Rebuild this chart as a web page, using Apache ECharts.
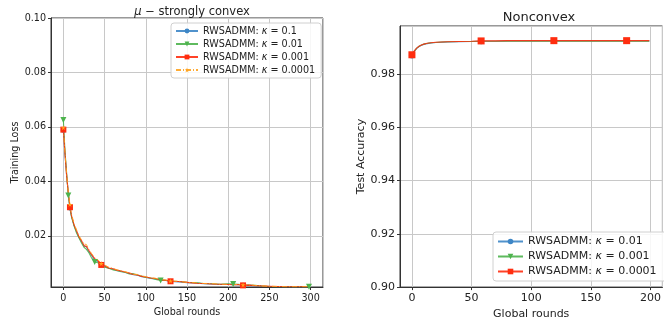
<!DOCTYPE html>
<html>
<head>
<meta charset="utf-8">
<script src="https://cdn.jsdelivr.net/npm/echarts@6/dist/echarts.min.js"></script>
<style>
  html, body { margin: 0; padding: 0; background: #fff; }
  #chart { width: 664px; height: 325px; }
</style>
</head>
<body>
<div id="chart"></div>
<script>
// left panel: training loss vs global rounds
const lossRounds = [0, 2, 4, 6, 8, 10, 13, 16, 19, 22, 25, 28, 31, 34, 38, 42, 46, 50, 55, 60,
  65, 70, 75, 80, 85, 90, 95, 100, 106, 112, 118, 124, 130, 140, 150, 160, 170, 180, 190, 200,
  206, 212, 218, 225, 232, 240, 250, 260, 270, 280, 290, 298];

const lossK01 = [0.0588, 0.0498, 0.0418, 0.0355, 0.0302, 0.0270, 0.0238, 0.0215, 0.0194, 0.0179,
  0.0162, 0.0160, 0.0141, 0.0130, 0.0111, 0.0106, 0.0094, 0.0089, 0.0081, 0.0078,
  0.0072, 0.0070, 0.0065, 0.0062, 0.0057, 0.0055, 0.0050, 0.0048, 0.0043, 0.0042,
  0.0038, 0.0036, 0.0032, 0.0031, 0.0028, 0.0027, 0.0024, 0.0023, 0.0021, 0.0022,
  0.0020, 0.0020, 0.0018, 0.0018, 0.0016, 0.0015, 0.0014, 0.0013, 0.0013, 0.0012,
  0.0012, 0.0012];
const lossK001 = [0.0625, 0.0510, 0.0430, 0.0348, 0.0300, 0.0268, 0.0236, 0.0210, 0.0192, 0.0174,
  0.0158, 0.0150, 0.0138, 0.0120, 0.0104, 0.0101, 0.0090, 0.0085, 0.0081, 0.0075,
  0.0073, 0.0068, 0.0066, 0.0060, 0.0061, 0.0056, 0.0052, 0.0047, 0.0045, 0.0040,
  0.0036, 0.0037, 0.0034, 0.0032, 0.0029, 0.0028, 0.0025, 0.0024, 0.0022, 0.0024,
  0.0023, 0.0022, 0.0020, 0.0019, 0.0018, 0.0016, 0.0014, 0.0013, 0.0013, 0.0013,
  0.0013, 0.0013];
const lossK0001 = [0.0590, 0.0500, 0.0420, 0.0358, 0.0305, 0.0272, 0.0240, 0.0218, 0.0196, 0.0182,
  0.0164, 0.0161, 0.0146, 0.0132, 0.0116, 0.0108, 0.0093, 0.0090, 0.0082, 0.0079,
  0.0074, 0.0071, 0.0067, 0.0063, 0.0058, 0.0056, 0.0051, 0.0049, 0.0045, 0.0043,
  0.0038, 0.0037, 0.0033, 0.0032, 0.0029, 0.0026, 0.0025, 0.0023, 0.0022, 0.0021,
  0.0020, 0.0021, 0.0018, 0.0019, 0.0017, 0.0016, 0.0015, 0.0014, 0.0013, 0.0013,
  0.0013, 0.0013];
const lossK00001 = [0.0597, 0.0505, 0.0425, 0.0360, 0.0315, 0.0278, 0.0245, 0.0222, 0.0200, 0.0185,
  0.0170, 0.0168, 0.0150, 0.0136, 0.0120, 0.0112, 0.0098, 0.0093, 0.0085, 0.0081,
  0.0075, 0.0072, 0.0068, 0.0064, 0.0059, 0.0058, 0.0053, 0.0050, 0.0046, 0.0044,
  0.0039, 0.0038, 0.0034, 0.0033, 0.0029, 0.0028, 0.0025, 0.0025, 0.0022, 0.0022,
  0.0021, 0.0021, 0.0020, 0.0020, 0.0018, 0.0016, 0.0015, 0.0014, 0.0013, 0.0013,
  0.0013, 0.0013];

// right panel: test accuracy vs global rounds
const accRounds = [0, 2, 4, 6, 8, 10, 13, 16, 20, 25, 30, 40, 50, 58, 70, 80, 90, 100, 110, 119,
  130, 140, 150, 160, 170, 180, 190, 199];
const accK001 = [0.9869, 0.9885, 0.9896, 0.9903, 0.9908, 0.9911, 0.9914, 0.9916, 0.9918, 0.9919,
  0.9920, 0.9921, 0.9922, 0.9923, 0.9923, 0.9924, 0.9924, 0.9924, 0.9924, 0.9924,
  0.9924, 0.9924, 0.9924, 0.9924, 0.9924, 0.9924, 0.9924, 0.9924];
const accK0001 = [0.9871, 0.9886, 0.9897, 0.9904, 0.9909, 0.9912, 0.9915, 0.9917, 0.9918, 0.9920,
  0.9921, 0.9922, 0.9922, 0.9923, 0.9923, 0.9923, 0.9923, 0.9923, 0.9923, 0.9923,
  0.9923, 0.9923, 0.9923, 0.9923, 0.9923, 0.9923, 0.9923, 0.9923];
const accK00001 = [0.9872, 0.9887, 0.9897, 0.9904, 0.9909, 0.9912, 0.9915, 0.9917, 0.9919, 0.9920,
  0.9921, 0.9922, 0.9923, 0.9924, 0.9924, 0.9925, 0.9925, 0.9925, 0.9925, 0.9925,
  0.9925, 0.9925, 0.9925, 0.9925, 0.9925, 0.9925, 0.9925, 0.9925];

// which points carry a marker
const marksLeft = [0, 4, 16, 32, 42];
const marksGreen = [0, 3, 14, 30, 40, 51];
const marksRight = [0, 13, 19, 25];

const FONT = 'DejaVu Sans';
const BLUE = '#3d86c6';
const GREEN = '#4db34d';
const RED = '#ff2d0f';
const ORANGE = '#ffa31f';
const STAR = 'path://M50,0 L61,35 L98,35 L68,57 L79,91 L50,70 L21,91 L32,57 L2,35 L39,35 Z';

const chart = echarts.init(document.getElementById('chart'));

function points(xs, ys, marks) {
  return xs.map((x, i) => {
    const item = { value: [x, ys[i]] };
    if (marks.indexOf(i) < 0) item.symbol = 'none';
    return item;
  });
}

function lineSeries(name, idx, xs, ys, marks, color, symbol, size, extra) {
  return Object.assign({
    name: name,
    type: 'line',
    xAxisIndex: idx,
    yAxisIndex: idx,
    data: points(xs, ys, marks),
    symbol: symbol,
    symbolSize: size,
    showAllSymbol: true,
    animation: false,
    color: color,
    lineStyle: { width: 1.1, color: color, opacity: 0.9 },
    itemStyle: { color: color },
  }, extra || {});
}

function legendFormatter(name) {
  const parts = name.split('κ');
  return '{t|' + parts[0] + '}{k|κ}{t|' + parts[1] + '}';
}

function xAxisCfg(idx, min, max, fs, labelMargin, nameGap) {
  return {
    gridIndex: idx,
    type: 'value',
    min: min,
    max: max,
    name: 'Global rounds',
    nameLocation: 'middle',
    nameGap: nameGap,
    nameTextStyle: { fontFamily: FONT, fontSize: fs, color: '#222' },
    axisLine: { show: true, onZero: false, lineStyle: { color: '#333', width: 1 } },
    axisTick: { show: true, length: 3, lineStyle: { color: '#333' } },
    axisLabel: { showMinLabel: false, showMaxLabel: false, margin: labelMargin,
      fontFamily: FONT, fontSize: fs, color: '#222' },
    splitLine: { show: true, lineStyle: { color: '#c8c8c8', width: 1 } },
  };
}

function yAxisCfg(idx, min, max, name, fs, nameGap, hideMin, hideMax) {
  return {
    gridIndex: idx,
    type: 'value',
    min: min,
    max: max,
    splitNumber: 5,
    name: name,
    nameLocation: 'middle',
    nameGap: nameGap,
    nameTextStyle: { fontFamily: FONT, fontSize: fs, color: '#222' },
    axisLine: { show: true, onZero: false, lineStyle: { color: '#333', width: 1 } },
    axisTick: { show: true, length: 3, lineStyle: { color: '#333' } },
    axisLabel: { showMinLabel: !hideMin, showMaxLabel: !hideMax, margin: 5,
      fontFamily: FONT, fontSize: fs, color: '#222',
      formatter: (v) => v.toFixed(2) },
    splitLine: { show: true, lineStyle: { color: '#c8c8c8', width: 1 } },
  };
}

const option = {
  backgroundColor: '#fff',
  title: [
    {
      text: '{m|μ} − strongly convex',
      left: 187, top: 1, textAlign: 'center',
      textStyle: { fontFamily: FONT, fontSize: 11.5, fontWeight: 'normal', color: '#222',
        rich: { m: { fontFamily: FONT, fontSize: 11.5, fontStyle: 'italic', color: '#222' } } },
    },
    {
      text: 'Nonconvex',
      left: 534, top: 6, textAlign: 'center',
      textStyle: { fontFamily: FONT, fontSize: 13, fontWeight: 'normal', color: '#222' },
    },
  ],
  grid: [
    { left: 51, right: 341, top: 18, bottom: 38, show: true, borderColor: '#333', borderWidth: 1 },
    { left: 400, right: -5, top: 26, bottom: 35, show: true, borderColor: '#333', borderWidth: 1 },
  ],
  xAxis: [
    xAxisCfg(0, -15, 315, 9.6, 6, 13),
    xAxisCfg(1, -10, 210, 11, 6, 18),
  ],
  yAxis: [
    yAxisCfg(0, 0.0012, 0.1, 'Training Loss', 9.6, 28, true, false),
    yAxisCfg(1, 0.9, 0.998, 'Test Accuracy', 11, 32, false, true),
  ],
  legend: [
    {
      data: ['RWSADMM: κ = 0.1', 'RWSADMM: κ = 0.01 ', 'RWSADMM: κ = 0.001 ', 'RWSADMM: κ = 0.0001'],
      orient: 'vertical',
      left: 171, top: 23,
      padding: [3, 6, 3, 4],
      itemWidth: 22, itemHeight: 6, itemGap: 3,
      backgroundColor: 'rgba(255,255,255,0.85)',
      borderColor: '#d0d0d0', borderWidth: 1, borderRadius: 3,
      formatter: legendFormatter,
      textStyle: { fontFamily: FONT, fontSize: 9.6, color: '#222',
        rich: { t: { fontFamily: FONT, fontSize: 9.6, color: '#222' },
                k: { fontFamily: FONT, fontSize: 9.6, fontStyle: 'italic', color: '#222' } } },
    },
    {
      data: ['RWSADMM: κ = 0.01', 'RWSADMM: κ = 0.001', 'RWSADMM: κ = 0.0001 '],
      orient: 'vertical',
      left: 493, top: 232,
      padding: [4, 8, 4, 4],
      itemWidth: 25, itemHeight: 7, itemGap: 4,
      backgroundColor: 'rgba(255,255,255,0.85)',
      borderColor: '#d0d0d0', borderWidth: 1, borderRadius: 3,
      formatter: legendFormatter,
      textStyle: { fontFamily: FONT, fontSize: 11, color: '#222',
        rich: { t: { fontFamily: FONT, fontSize: 11, color: '#222' },
                k: { fontFamily: FONT, fontSize: 11, fontStyle: 'italic', color: '#222' } } },
    },
  ],
  series: [
    lineSeries('RWSADMM: κ = 0.1', 0, lossRounds, lossK01, marksLeft, BLUE, 'circle', 5),
    lineSeries('RWSADMM: κ = 0.01 ', 0, lossRounds, lossK001, marksGreen, GREEN, 'triangle', 6,
      { symbolRotate: 180 }),
    lineSeries('RWSADMM: κ = 0.001 ', 0, lossRounds, lossK0001, marksLeft, RED, 'rect', 6),
    lineSeries('RWSADMM: κ = 0.0001', 0, lossRounds, lossK00001, marksLeft, ORANGE, STAR, 5,
      { lineStyle: { width: 1, color: ORANGE, opacity: 0.9, type: [5, 2, 1, 2] } }),
    lineSeries('RWSADMM: κ = 0.01', 1, accRounds, accK001, marksRight, BLUE, 'circle', 6),
    lineSeries('RWSADMM: κ = 0.001', 1, accRounds, accK0001, marksRight, GREEN, 'triangle', 6,
      { symbolRotate: 180 }),
    lineSeries('RWSADMM: κ = 0.0001 ', 1, accRounds, accK00001, marksRight, RED, 'rect', 7),
  ],
};

chart.setOption(option);
</script>
</body>
</html>
